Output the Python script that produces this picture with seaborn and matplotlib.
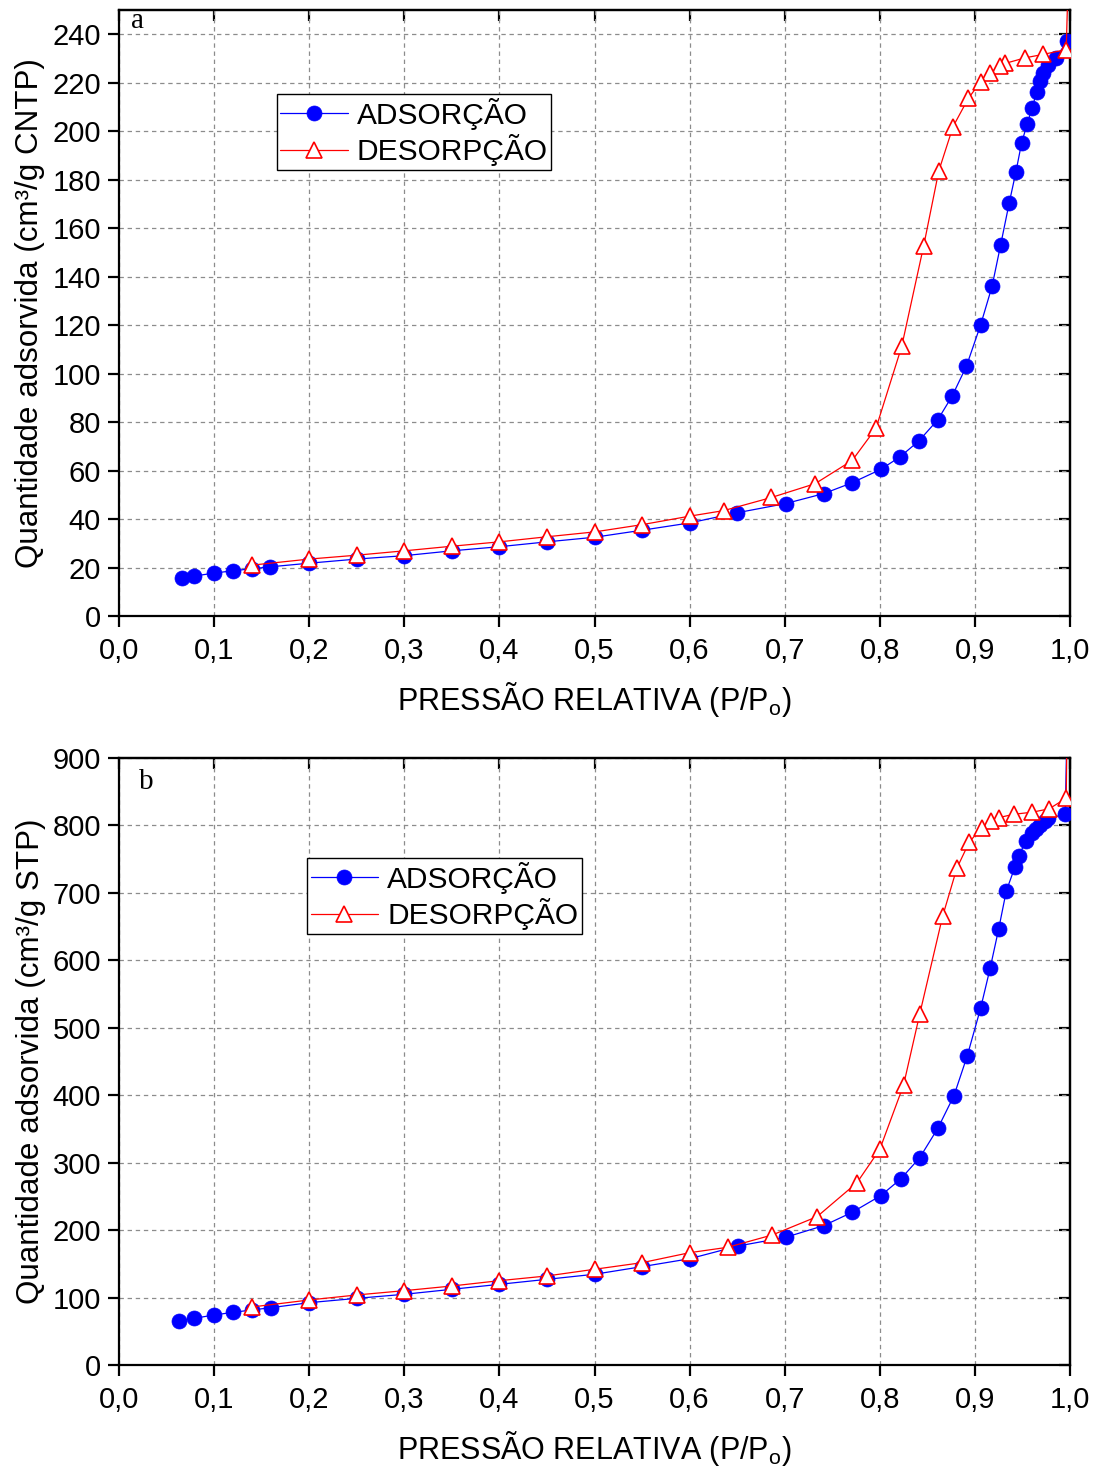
import numpy as np
import pandas as pd
import seaborn as sns
import matplotlib
matplotlib.use("Agg")
import matplotlib.pyplot as plt
from matplotlib.ticker import MultipleLocator, FuncFormatter

# ---------------- data: panel a ----------------
ads_a_p = [0.066, 0.079, 0.100, 0.120, 0.140, 0.159, 0.200, 0.250, 0.300, 0.350,
           0.400, 0.450, 0.500, 0.550, 0.600, 0.650, 0.701, 0.741, 0.771, 0.801,
           0.821, 0.841, 0.861, 0.876, 0.891, 0.906, 0.918, 0.927, 0.936, 0.943,
           0.949, 0.955, 0.960, 0.965, 0.968, 0.972, 0.977, 0.985, 0.997]
ads_a_q = [15.8, 16.5, 17.7, 18.7, 19.5, 20.3, 21.8, 23.5, 24.9, 26.9,
           28.6, 30.6, 32.5, 35.4, 38.4, 42.6, 46.4, 50.5, 55.0, 60.5,
           65.6, 72.2, 81.0, 90.7, 103.0, 120.1, 136.0, 153.0, 170.3, 183.0,
           195.0, 203.1, 209.4, 216.3, 220.7, 224.1, 227.5, 230.3, 237.1]

des_a_p = [0.998, 0.996, 0.972, 0.953, 0.932, 0.926, 0.916, 0.906, 0.893, 0.877,
           0.862, 0.846, 0.823, 0.796, 0.771, 0.732, 0.686, 0.636, 0.600, 0.550,
           0.500, 0.450, 0.400, 0.350, 0.300, 0.250, 0.200, 0.140]
des_a_q = [262.0, 233.7, 231.7, 230.3, 228.0, 226.8, 224.1, 220.4, 213.5, 201.9,
           183.6, 152.5, 111.2, 77.5, 64.2, 54.6, 48.9, 43.5, 41.2, 37.7,
           34.7, 32.7, 30.6, 28.8, 26.9, 25.1, 23.5, 21.0]

# ---------------- data: panel b ----------------
ads_b_p = [0.063, 0.079, 0.100, 0.120, 0.140, 0.160, 0.200, 0.250, 0.300, 0.350,
           0.400, 0.450, 0.500, 0.550, 0.600, 0.651, 0.701, 0.741, 0.771, 0.801,
           0.822, 0.842, 0.861, 0.878, 0.892, 0.906, 0.916, 0.925, 0.933, 0.942,
           0.946, 0.954, 0.960, 0.964, 0.968, 0.974, 0.977, 0.995, 0.997]
ads_b_q = [65.2, 69.2, 74.1, 78.1, 81.6, 85.0, 92.4, 98.8, 104.8, 112.2,
           119.6, 127.0, 134.5, 145.8, 157.5, 176.4, 189.3, 206.6, 226.4, 251.1,
           275.8, 307.4, 350.9, 399.4, 458.6, 529.0, 588.2, 646.5, 702.8, 738.0,
           755.2, 777.4, 788.4, 794.8, 800.7, 806.6, 810.5, 816.5, 960.0]

des_b_p = [0.997, 0.996, 0.978, 0.960, 0.941, 0.925, 0.917, 0.907, 0.894, 0.881,
           0.866, 0.842, 0.825, 0.800, 0.776, 0.734, 0.687, 0.640, 0.600, 0.550,
           0.500, 0.450, 0.400, 0.350, 0.300, 0.250, 0.200, 0.140]
des_b_q = [960.0, 840.3, 824.5, 819.5, 816.5, 811.5, 806.6, 796.7, 775.0, 736.5,
           665.0, 520.5, 415.2, 319.8, 270.3, 219.9, 192.8, 174.5, 166.5, 151.7,
           141.9, 132.0, 125.0, 117.1, 110.2, 103.8, 96.4, 86.0]

x_ticks = [0.0, 0.1, 0.2, 0.3, 0.4, 0.5, 0.6, 0.7, 0.8, 0.9, 1.0]
ads_label = "ADSORÇÃO"
des_label = "DESORPÇÃO"

# ---------------- style ----------------
sns.set_style("white")
plt.rcParams["font.family"] = ["Liberation Sans", "DejaVu Sans"]
plt.rcParams["mathtext.fontset"] = "custom"
plt.rcParams["mathtext.rm"] = "Liberation Sans"
plt.rcParams["mathtext.it"] = "Liberation Sans"
for key in ("text.color", "axes.labelcolor", "xtick.color", "ytick.color",
            "axes.edgecolor"):
    plt.rcParams[key] = "black"

fig = plt.figure(figsize=(11.03, 14.72), dpi=100)
ax_a = fig.add_axes([0.1079, 0.5815, 0.8622, 0.4117])
ax_b = fig.add_axes([0.1079, 0.0727, 0.8622, 0.4124])

TICK_FS = 21
LEGEND_FS = 21.5
XLABEL_FS = 22
YLABEL_FS = 22.6


def draw_panel(ax, ads_p, ads_q, des_p, des_q, ymax, ystep, ylabel, tag,
               tag_xy, leg_xy):
    ads = pd.DataFrame({"p": ads_p, "q": ads_q})
    des = pd.DataFrame({"p": des_p, "q": des_q})
    sns.lineplot(data=ads, x="p", y="q", sort=False, estimator=None, ax=ax,
                 color="blue", linewidth=0.9, marker="o", markersize=10.8,
                 markerfacecolor="blue", markeredgecolor="blue",
                 markeredgewidth=0.5, label=ads_label, zorder=3)
    sns.lineplot(data=des, x="p", y="q", sort=False, estimator=None, ax=ax,
                 color="red", linewidth=0.9, marker="^", markersize=11.5,
                 markerfacecolor="white", markeredgecolor="red",
                 markeredgewidth=1.2, label=des_label, zorder=4)

    ax.set_xlim(0, 1.0)
    ax.set_ylim(0, ymax)
    ax.xaxis.set_major_locator(MultipleLocator(0.1))
    ax.yaxis.set_major_locator(MultipleLocator(ystep))
    ax.xaxis.set_major_formatter(
        FuncFormatter(lambda v, _: f"{v:.1f}".replace(".", ",")))
    ax.yaxis.set_major_formatter(FuncFormatter(lambda v, _: f"{v:.0f}"))

    ax.grid(True, which="major", color="#8c8c8c", linestyle=(0, (3.5, 3)),
            linewidth=0.9)
    ax.set_axisbelow(True)

    for s in ax.spines.values():
        s.set_visible(True)
        s.set_color("black")
        s.set_linewidth(1.6)

    ax.tick_params(axis="both", which="major", direction="out", length=8,
                   width=1.6, labelsize=TICK_FS, color="black",
                   labelcolor="black",
                   bottom=True, left=True, top=False, right=False)
    ax.tick_params(axis="x", pad=7)
    ax.tick_params(axis="y", pad=5)
    # mirrored ticks pointing inward on the top and right spines
    sec_x = ax.secondary_xaxis("top")
    sec_x.set_xticks(x_ticks)
    sec_x.tick_params(direction="in", length=8, width=1.6, labeltop=False,
                      color="black")
    sec_y = ax.secondary_yaxis("right")
    sec_y.set_yticks(np.arange(0, ymax + 1, ystep))
    sec_y.tick_params(direction="in", length=8, width=1.6, labelright=False,
                      color="black")
    for sec in (sec_x, sec_y):
        for s in sec.spines.values():
            s.set_linewidth(1.6)
            s.set_color("black")

    ax.set_xlabel(r"PRESSÃO RELATIVA (P/P$_\mathrm{o}$)", fontsize=XLABEL_FS,
                  labelpad=11, color="black")
    ax.set_ylabel(ylabel, fontsize=YLABEL_FS, labelpad=5, color="black")

    ax.text(tag_xy[0], tag_xy[1], tag, transform=ax.transAxes,
            fontsize=21, family=["Liberation Serif"], ha="center",
            va="center", color="black")

    leg = ax.legend(loc="upper left", bbox_to_anchor=leg_xy,
                    borderaxespad=0, fontsize=LEGEND_FS, frameon=True,
                    fancybox=False, shadow=False, framealpha=1,
                    edgecolor="black", handlelength=2.25, handletextpad=0.3,
                    borderpad=0.12, labelspacing=0.15, labelcolor="black")
    leg.get_frame().set_linewidth(1.0)


draw_panel(ax_a, ads_a_p, ads_a_q, des_a_p, des_a_q, 250, 20,
           "Quantidade adsorvida (cm³/g CNTP)", "a", (0.019, 0.982),
           (0.166, 0.861))
draw_panel(ax_b, ads_b_p, ads_b_q, des_b_p, des_b_q, 900, 100,
           "Quantidade adsorvida (cm³/g STP)", "b", (0.029, 0.960),
           (0.198, 0.835))

fig.savefig("out.png", dpi=100)
